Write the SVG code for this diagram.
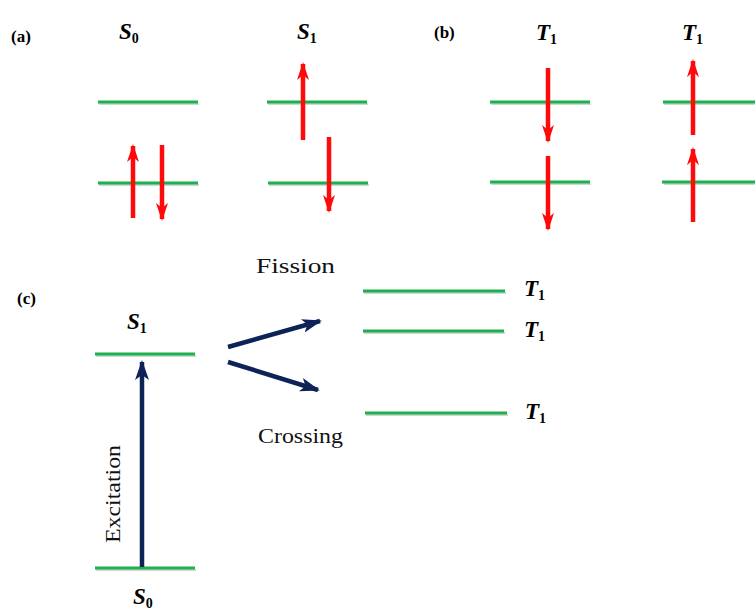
<svg xmlns="http://www.w3.org/2000/svg" width="755" height="611" viewBox="0 0 755 611">
<style>
.lvl{stroke:#1db04f;stroke-width:3.2;stroke-linecap:butt;fill:none}
.sh{stroke:#b8c8bd;stroke-width:2;fill:none;opacity:.7}
.spin{stroke:#ff0a0a;stroke-width:4.5;fill:none}
.exc{stroke:#0d2358;stroke-width:4.5;fill:none}
text{font-family:"Liberation Serif","Times New Roman",serif}
.lab{font-weight:bold;font-size:17px;fill:#000}
.st{font-weight:bold;font-style:italic;font-size:23px;fill:#000}
.sub{font-weight:bold;font-size:14px;font-style:normal}
.txt{font-size:22px;fill:#111}
</style>
<defs>
<marker id="rh" viewBox="0 0 18 12" refX="16" refY="6" markerWidth="18" markerHeight="12" markerUnits="userSpaceOnUse" orient="auto">
<path d="M0,0 L18,6 L0,12 L5,6 Z" fill="#ff0a0a"/>
</marker>
<marker id="nh" viewBox="0 0 20 14" refX="18" refY="7" markerWidth="20" markerHeight="14" markerUnits="userSpaceOnUse" orient="auto">
<path d="M0,0 L20,7 L0,14 L5,7 Z" fill="#0d2358"/>
</marker>
</defs>
<g id="labels">
<text class="lab" x="11" y="42">(a)</text>
<text class="lab" x="434" y="38">(b)</text>
<text class="lab" x="17" y="304">(c)</text>
</g>
<g id="node-a-S0">
<text class="st" x="119" y="39">S<tspan class="sub" dy="4">0</tspan></text>
<line class="sh" x1="99" y1="104" x2="199" y2="104"/><line class="lvl" x1="98" y1="102" x2="198" y2="102"/>
<line class="sh" x1="99" y1="185" x2="199" y2="185"/><line class="lvl" x1="98" y1="183" x2="198" y2="183"/>
<line class="spin" x1="133" y1="218" x2="133" y2="146" marker-end="url(#rh)"/>
<line class="spin" x1="162" y1="145" x2="162" y2="219" marker-end="url(#rh)"/>
</g>
<g id="node-a-S1">
<text class="st" x="297" y="39">S<tspan class="sub" dy="4">1</tspan></text>
<line class="sh" x1="268" y1="104" x2="368" y2="104"/><line class="lvl" x1="267" y1="102" x2="367" y2="102"/>
<line class="sh" x1="269" y1="185" x2="369" y2="185"/><line class="lvl" x1="268" y1="183" x2="368" y2="183"/>
<line class="spin" x1="303" y1="140" x2="303" y2="64" marker-end="url(#rh)"/>
<line class="spin" x1="329" y1="137" x2="329" y2="211" marker-end="url(#rh)"/>
</g>
<g id="node-b-T1a">
<text class="st" x="536" y="40">T<tspan class="sub" dy="4">1</tspan></text>
<line class="sh" x1="491" y1="104" x2="591" y2="104"/><line class="lvl" x1="490" y1="102" x2="590" y2="102"/>
<line class="sh" x1="491" y1="184" x2="591" y2="184"/><line class="lvl" x1="490" y1="182" x2="590" y2="182"/>
<line class="spin" x1="548" y1="68" x2="548" y2="141" marker-end="url(#rh)"/>
<line class="spin" x1="548" y1="156" x2="548" y2="229" marker-end="url(#rh)"/>
</g>
<g id="node-b-T1b">
<text class="st" x="682" y="40">T<tspan class="sub" dy="4">1</tspan></text>
<line class="sh" x1="664" y1="104" x2="756" y2="104"/><line class="lvl" x1="663" y1="102" x2="755" y2="102"/>
<line class="sh" x1="664" y1="184" x2="756" y2="184"/><line class="lvl" x1="662" y1="182" x2="755" y2="182"/>
<line class="spin" x1="693" y1="135" x2="693" y2="61" marker-end="url(#rh)"/>
<line class="spin" x1="693" y1="222" x2="693" y2="149" marker-end="url(#rh)"/>
</g>
<g id="node-c-S1">
<text class="st" x="127" y="329">S<tspan class="sub" dy="4">1</tspan></text>
<line class="sh" x1="96" y1="356" x2="196" y2="356"/><line class="lvl" x1="95" y1="354" x2="195" y2="354"/>
</g>
<g id="node-c-S0">
<line class="sh" x1="96" y1="570" x2="196" y2="570"/><line class="lvl" x1="95" y1="568" x2="195" y2="568"/>
<text class="st" x="133" y="604">S<tspan class="sub" dy="4">0</tspan></text>
</g>
<g id="node-c-T1">
<line class="sh" x1="364" y1="293" x2="506" y2="293"/><line class="lvl" x1="363" y1="291" x2="505" y2="291"/>
<line class="sh" x1="364" y1="333" x2="505" y2="333"/><line class="lvl" x1="363" y1="331" x2="504" y2="331"/>
<line class="sh" x1="366" y1="415" x2="508" y2="415"/><line class="lvl" x1="365" y1="413" x2="507" y2="413"/>
<text class="st" x="524" y="296">T<tspan class="sub" dy="4">1</tspan></text>
<text class="st" x="524" y="337">T<tspan class="sub" dy="4">1</tspan></text>
<text class="st" x="525" y="419">T<tspan class="sub" dy="4">1</tspan></text>
</g>
<g id="connectors">
<line class="exc" x1="142" y1="567" x2="142" y2="362" marker-end="url(#nh)"/>
<line class="exc" x1="228" y1="347" x2="320" y2="321" marker-end="url(#nh)"/>
<line class="exc" x1="228" y1="362" x2="318" y2="390" marker-end="url(#nh)"/>
<text class="txt" x="256" y="273" textLength="79" lengthAdjust="spacingAndGlyphs">Fission</text>
<text class="txt" x="258" y="443" textLength="85" lengthAdjust="spacingAndGlyphs">Crossing</text>
<text class="txt" x="0" y="0" transform="translate(120 494) rotate(-90)" text-anchor="middle" textLength="98" lengthAdjust="spacingAndGlyphs">Excitation</text>
</g>
</svg>
